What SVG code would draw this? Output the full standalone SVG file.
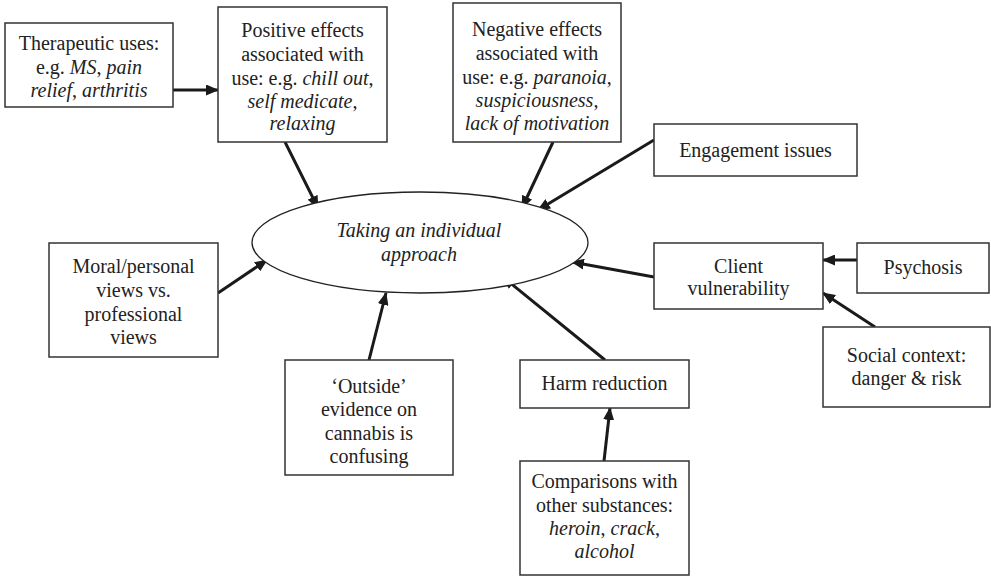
<svg xmlns="http://www.w3.org/2000/svg" width="991" height="577" viewBox="0 0 991 577" font-family="Liberation Serif, Times New Roman, serif" font-size="20">
<style>
rect.box{fill:#fff;stroke:#333;stroke-width:1.5}
ellipse.hub{fill:#fff;stroke:#222;stroke-width:1.3}
text{fill:#222;text-anchor:middle}
.i{font-style:italic}
#connectors line{stroke:#1a1a1a;stroke-width:3;marker-end:url(#ah)}
</style>
<defs>
<marker id="ah" markerUnits="userSpaceOnUse" markerWidth="13" markerHeight="11" refX="12" refY="5.5" orient="auto">
<path d="M0,0 L13,5.5 L0,11 z" fill="#1a1a1a"/>
</marker>
</defs>
<rect width="991" height="577" fill="#fff"/>
<g id="connectors">
<line x1="173" y1="90" x2="218" y2="90"/>
<line x1="285" y1="142" x2="318" y2="208"/>
<line x1="553" y1="142" x2="522" y2="208"/>
<line x1="654" y1="140" x2="538" y2="210"/>
<line x1="654" y1="277" x2="572" y2="262"/>
<line x1="857" y1="260" x2="823" y2="260"/>
<line x1="875" y1="327" x2="823" y2="293"/>
<line x1="605" y1="360" x2="503" y2="277"/>
<line x1="604" y1="461" x2="610" y2="408"/>
<line x1="369" y1="360" x2="386" y2="293"/>
<line x1="218" y1="293" x2="267" y2="260"/>
</g>
<g id="hub">
<ellipse class="hub" cx="420" cy="242.5" rx="168" ry="50.5"/>
<text x="419" y="237" class="i">Taking an individual</text>
<text x="419" y="261" class="i">approach</text>
</g>
<g id="therapeutic">
<rect class="box" x="5" y="23" width="168" height="84"/>
<text x="89" y="50">Therapeutic uses:</text>
<text x="89" y="74">e.g. <tspan class="i">MS</tspan>, <tspan class="i">pain</tspan></text>
<text x="89" y="97"><tspan class="i">relief</tspan>, <tspan class="i">arthritis</tspan></text>
</g>
<g id="positive">
<rect class="box" x="218" y="7" width="169" height="135"/>
<text x="302.5" y="37">Positive effects</text>
<text x="302.5" y="61">associated with</text>
<text x="302.5" y="85">use: e.g. <tspan class="i">chill out</tspan>,</text>
<text x="302.5" y="108"><tspan class="i">self medicate</tspan>,</text>
<text x="302.5" y="130" class="i">relaxing</text>
</g>
<g id="negative">
<rect class="box" x="453" y="3" width="168" height="139"/>
<text x="537" y="36">Negative effects</text>
<text x="537" y="60">associated with</text>
<text x="537" y="84">use: e.g. <tspan class="i">paranoia</tspan>,</text>
<text x="537" y="107"><tspan class="i">suspiciousness</tspan>,</text>
<text x="537" y="130" class="i">lack of motivation</text>
</g>
<g id="engagement">
<rect class="box" x="654" y="124" width="203" height="52"/>
<text x="755.5" y="157">Engagement issues</text>
</g>
<g id="client">
<rect class="box" x="654" y="243" width="169" height="66"/>
<text x="738.5" y="273">Client</text>
<text x="738.5" y="295">vulnerability</text>
</g>
<g id="psychosis">
<rect class="box" x="857" y="243" width="132" height="50"/>
<text x="923" y="274">Psychosis</text>
</g>
<g id="social">
<rect class="box" x="823" y="327" width="167" height="80"/>
<text x="906.5" y="362">Social context:</text>
<text x="906.5" y="385">danger &amp; risk</text>
</g>
<g id="moral">
<rect class="box" x="49" y="243" width="169" height="114"/>
<text x="133.5" y="273">Moral/personal</text>
<text x="133.5" y="297">views vs.</text>
<text x="133.5" y="321">professional</text>
<text x="133.5" y="344">views</text>
</g>
<g id="outside">
<rect class="box" x="285" y="360" width="168" height="115"/>
<text x="369" y="393">‘Outside’</text>
<text x="369" y="416">evidence on</text>
<text x="369" y="440">cannabis is</text>
<text x="369" y="463">confusing</text>
</g>
<g id="harm">
<rect class="box" x="520" y="360" width="169" height="48"/>
<text x="604.5" y="390">Harm reduction</text>
</g>
<g id="comparisons">
<rect class="box" x="520" y="461" width="169" height="114"/>
<text x="604.5" y="488">Comparisons with</text>
<text x="604.5" y="512">other substances:</text>
<text x="604.5" y="535"><tspan class="i">heroin</tspan>, <tspan class="i">crack</tspan>,</text>
<text x="604.5" y="558" class="i">alcohol</text>
</g>
</svg>
